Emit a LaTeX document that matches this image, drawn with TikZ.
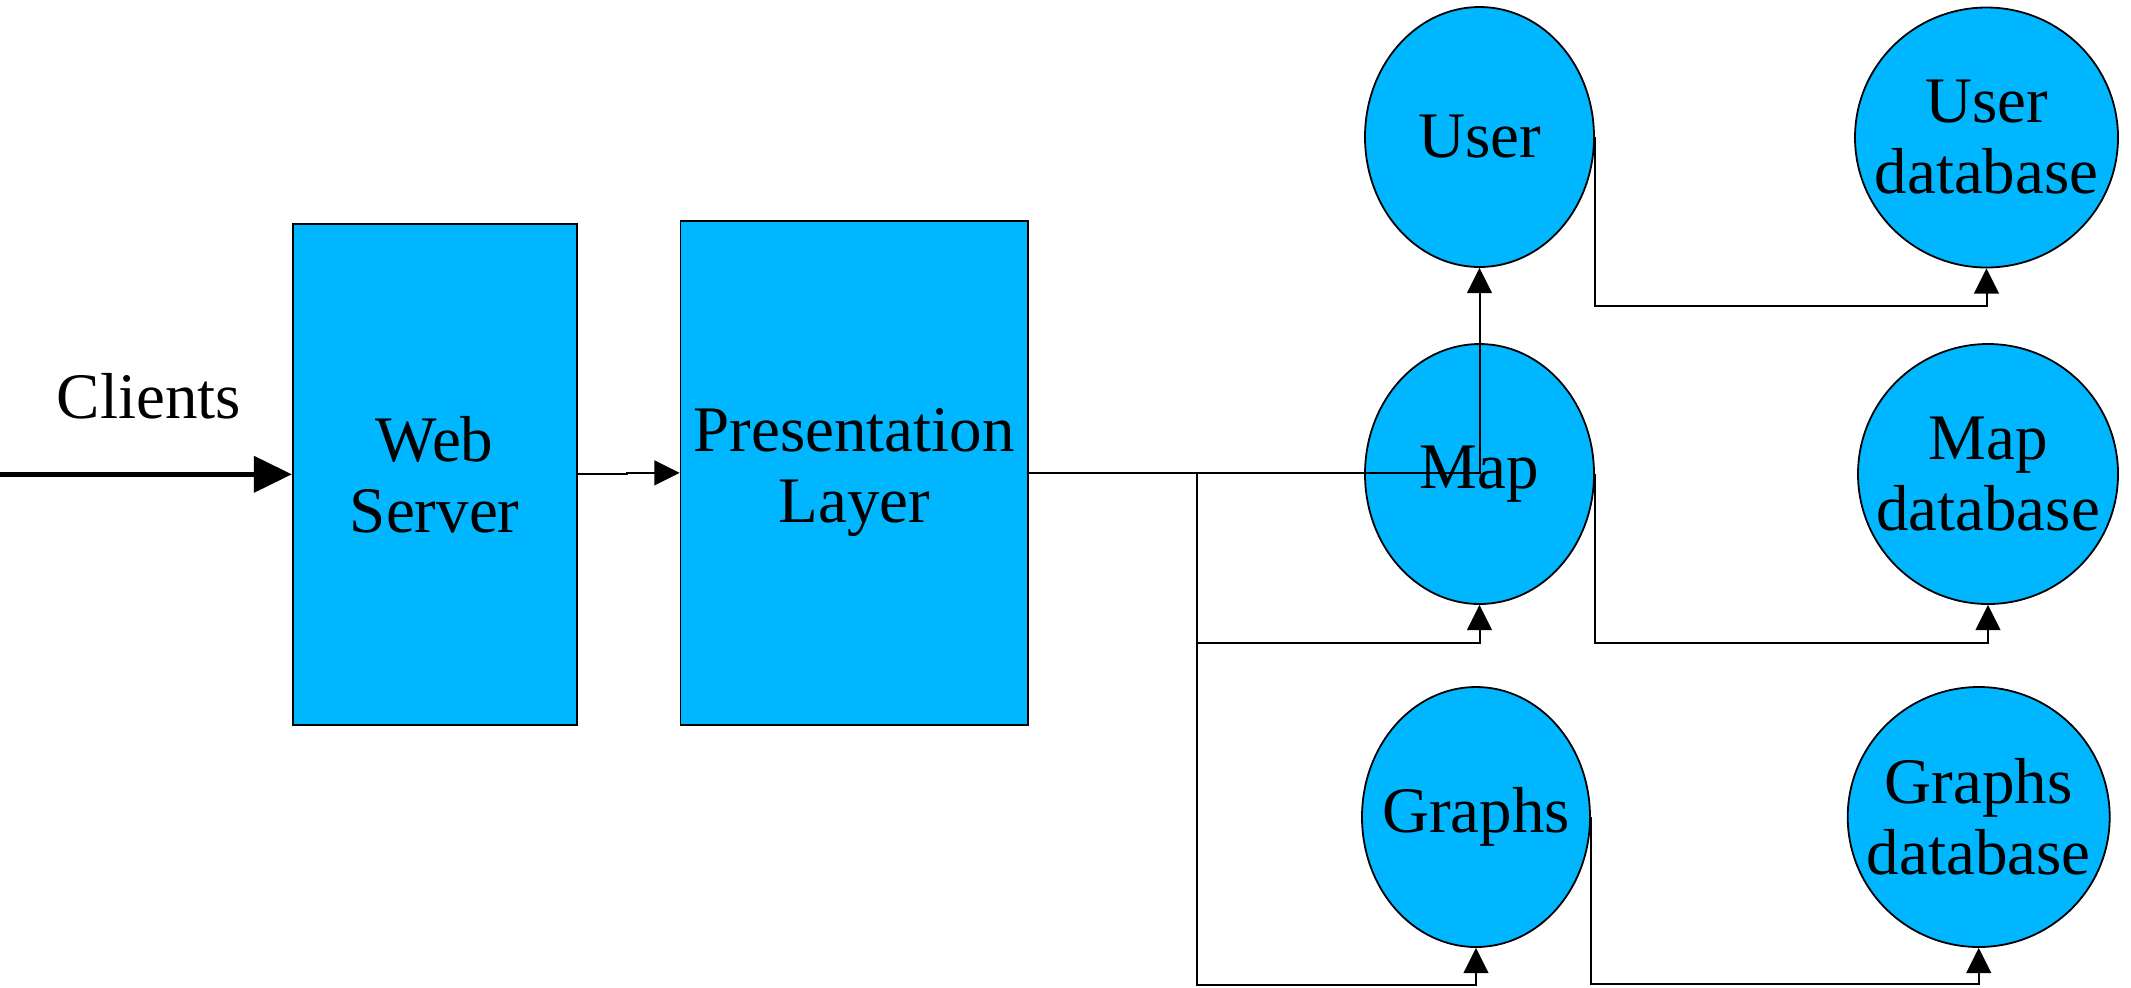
\documentclass[tikz,border=0pt]{standalone}
\usepackage{fontspec}
\setmainfont{Liberation Serif}
\usetikzlibrary{shapes.geometric,arrows.meta,calc}
\definecolor{boxblue}{RGB}{0,183,255}
\begin{document}
\begin{tikzpicture}[x=0.25pt,y=-0.25pt,
  lbl/.style={font=\fontsize{16.25}{17.75}\selectfont},
  blk/.style={draw=black,line width=0.45pt,fill=boxblue,inner sep=0pt,align=center,lbl},
  oval/.style={draw=black,line width=0.45pt,fill=boxblue,inner sep=0pt,ellipse},
  txt/.style={lbl,align=center,inner sep=0pt},
  arr/.style={line width=0.5pt,-{Triangle[length=6.3pt,width=6.2pt]}},
  bigarr/.style={line width=1.1pt,-{Triangle[length=9.5pt,width=9pt]}}
]
\useasboundingbox (0,0) rectangle (2131,987);
% boxes
\node[blk,minimum width=71pt,minimum height=125.35pt] (web) at (434.7,474.3) {Web\\Server};
\node[blk,minimum width=86.9pt,minimum height=126.1pt] (pres) at (854.25,472.85) {Presentation\\Layer};
% ellipses
\node[oval,minimum width=57.25pt,minimum height=65pt,label={[txt]center:User}] (user) at (1479.5,137) {};
\node[oval,minimum width=57.25pt,minimum height=65pt,label={[txt]center:Map}] (map) at (1479.5,474) {};
\node[oval,minimum width=57pt,minimum height=65pt,label={[txt]center:Graphs}] (graphs) at (1476,817) {};
\node[oval,minimum width=65.75pt,minimum height=65pt,label={[txt]center:{User\\database}}] (userdb) at (1986.5,137.5) {};
\node[oval,minimum width=65pt,minimum height=65pt,label={[txt]center:{Map\\database}}] (mapdb) at (1988,474) {};
\node[oval,minimum width=65.5pt,minimum height=65pt,label={[txt]center:{Graphs\\database}}] (graphsdb) at (1978.7,817) {};
% clients
\node[lbl,anchor=base] (clients) at (149,418.6) {Clients};
\coordinate (cl) at (0,474.3);
\draw[bigarr] (cl) -- (web.west);
% web -> presentation
\draw[arr] (web.east) -- ++(49,0) |- (pres.west);
% presentation -> services
\coordinate (j) at (1197,472.85);
\draw[arr] (pres.east) -| (user.south);
\draw[arr] (j) -- ++(0,170) -| (map.south);
\draw[arr] (j) -- ++(0,512) -| (graphs.south);
% services -> databases
\draw[arr] (user.east) -- ++(0,169) -| (userdb.south);
\draw[arr] (map.east) -- ++(0,169) -| (mapdb.south);
\draw[arr] (graphs.east) -- ++(0,167) -| (graphsdb.south);
\end{tikzpicture}
\end{document}
